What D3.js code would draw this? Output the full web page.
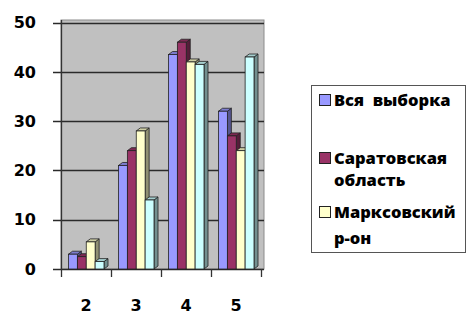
<!DOCTYPE html>
<html>
<head>
<meta charset="utf-8">
<script src="https://cdn.jsdelivr.net/npm/d3@7"></script>
<style>
  body { margin: 0; background: #fff; }
  svg { display: block; }
</style>
</head>
<body>
<script>
// Data
const categories = ["2", "3", "4", "5"];
const seriesNames = ["Вся  выборка", "Саратовская область", "Марксовский р-он", "Прочие"];
const allSample = [3, 21, 43.5, 32];
const saratovRegion = [2.5, 24, 46, 27];
const marksDistrict = [5.5, 28, 42, 24];
const otherSeries = [1.5, 14, 41.5, 43];
const yTicks = [0, 10, 20, 30, 40, 50];

const seriesValues = [allSample, saratovRegion, marksDistrict, otherSeries];
const fills = ["#9999FF", "#993366", "#FFFFCC", "#CCFFFF"];

// Size
const width = 469, height = 316;
const depth = {dx: 4, dy: -3};

const svg = d3.select("body").append("svg")
  .attr("width", width)
  .attr("height", height);

// Scales
const x = d3.scaleBand().domain(categories).range([61, 261]);
const xs = d3.scaleBand().domain(d3.range(4)).range([7.5, 43]);
const y = d3.scaleLinear().domain([0, 50]).range([269, 22.5]);

// Back wall
svg.append("rect")
  .attr("x", 61).attr("y", 20)
  .attr("width", 203).attr("height", 249)
  .attr("fill", "#C0C0C0")
  .attr("stroke", "#8c8c8c")
  .attr("stroke-width", 1);

// Gridlines + ticks
svg.append("g")
  .selectAll("line")
  .data(yTicks)
  .join("line")
  .attr("x1", 53).attr("x2", 264)
  .attr("y1", d => Math.round(y(d)) + 0.5)
  .attr("y2", d => Math.round(y(d)) + 0.5)
  .attr("stroke", "#2a2a2a")
  .attr("stroke-width", 1.3);

// Left axis
svg.append("line")
  .attr("x1", 61.5).attr("x2", 61.5)
  .attr("y1", 20).attr("y2", 277)
  .attr("stroke", "#333").attr("stroke-width", 1.3);

// Category ticks
svg.append("g")
  .selectAll("line")
  .data(categories.slice(1).concat(["end"]))
  .join("line")
  .attr("x1", (d, i) => i < 3 ? x(d) + 0.5 : x.range()[1] + 0.5)
  .attr("x2", (d, i) => i < 3 ? x(d) + 0.5 : x.range()[1] + 0.5)
  .attr("y1", 269).attr("y2", 277)
  .attr("stroke", "#333").attr("stroke-width", 1.3);

// Y labels
svg.append("g")
  .selectAll("text")
  .data(yTicks)
  .join("text")
  .attr("x", 36)
  .attr("y", d => y(d))
  .attr("dy", "0.36em")
  .attr("text-anchor", "end")
  .attr("font-family", "DejaVu Sans, sans-serif")
  .attr("font-weight", "bold")
  .attr("font-size", 16)
  .attr("fill", "#000")
  .text(d => d);

// X labels
svg.append("g")
  .selectAll("text")
  .data(categories)
  .join("text")
  .attr("x", d => x(d) + x.bandwidth() / 2)
  .attr("y", 305)
  .attr("dy", "0.36em")
  .attr("text-anchor", "middle")
  .attr("font-family", "DejaVu Sans, sans-serif")
  .attr("font-weight", "bold")
  .attr("font-size", 16)
  .attr("fill", "#000")
  .text(d => d);

// 3D bars
const bars = [];
categories.forEach((c, ci) => {
  seriesValues.forEach((vals, si) => {
    bars.push({cat: c, s: si, v: vals[ci]});
  });
});

const barG = svg.append("g");
bars.forEach(b => {
  const x0 = x(b.cat) + xs(b.s);
  const x1 = x0 + xs.bandwidth();
  const yt = y(b.v);
  const yb = y(0);
  const base = d3.color(fills[b.s]);
  const g = barG.append("g");
  // side face
  g.append("path")
    .attr("d", `M${x1},${yt}L${x1 + depth.dx},${yt + depth.dy}L${x1 + depth.dx},${yb + depth.dy}L${x1},${yb}Z`)
    .attr("fill", base.darker(1.6))
    .attr("stroke", "#222").attr("stroke-width", 0.8);
  // top face
  g.append("path")
    .attr("d", `M${x0},${yt}L${x0 + depth.dx},${yt + depth.dy}L${x1 + depth.dx},${yt + depth.dy}L${x1},${yt}Z`)
    .attr("fill", base.darker(0.6))
    .attr("stroke", "#222").attr("stroke-width", 0.8);
  // front face
  g.append("rect")
    .attr("x", x0).attr("y", yt)
    .attr("width", x1 - x0).attr("height", yb - yt)
    .attr("fill", base)
    .attr("stroke", "#222").attr("stroke-width", 0.8);
});

// Legend
const legend = svg.append("g");
legend.append("rect")
  .attr("x", 311.5).attr("y", 85.5)
  .attr("width", 154).attr("height", 167)
  .attr("fill", "#fff")
  .attr("stroke", "#555").attr("stroke-width", 1);

const legendRows = [
  {s: 0, lines: ["Вся  выборка"], ys: [100]},
  {s: 1, lines: ["Саратовская", "область"], ys: [158, 180]},
  {s: 2, lines: ["Марксовский", "р-он"], ys: [212, 238]}
];
legendRows.forEach(r => {
  legend.append("rect")
    .attr("x", 319.5).attr("y", r.ys[0] - 5.5)
    .attr("width", 11).attr("height", 11)
    .attr("fill", fills[r.s])
    .attr("stroke", "#222").attr("stroke-width", 1);
  r.lines.forEach((t, i) => {
    legend.append("text")
      .attr("x", 334)
      .attr("y", r.ys[i])
      .attr("dy", "0.36em")
      .attr("font-family", "Open Sans, sans-serif")
      .attr("font-weight", 800)
      .attr("font-size", 16.5)
      .attr("fill", "#000")
      .style("white-space", "pre")
      .text(t);
  });
});
</script>
</body>
</html>
